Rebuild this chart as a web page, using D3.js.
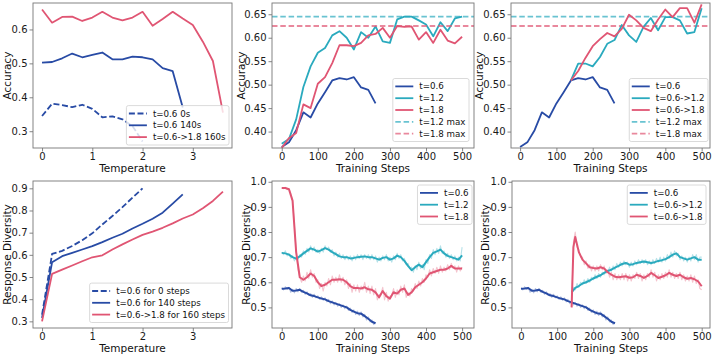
<!DOCTYPE html>
<html>
<head>
<meta charset="utf-8">
<script src="https://cdn.jsdelivr.net/npm/d3@7"></script>
<style>
  body { margin: 0; background: #fff; }
  svg { display: block; font-family: "DejaVu Sans", sans-serif; }
</style>
</head>
<body>
<div id="chart"></div>
<script>
// ---- data ----
// temperature sweeps (left column)
var temps = [0, 0.2, 0.4, 0.6, 0.8, 1.0, 1.2, 1.4, 1.6, 1.8, 2.0, 2.2, 2.4, 2.6, 2.8, 3.0, 3.2, 3.4, 3.6];
var acc0s = [0.345, 0.381, 0.377, 0.371, 0.378, 0.366, 0.341, 0.344, 0.335, 0.315, 0.27];
var acc140s = [0.502, 0.504, 0.515, 0.529, 0.518, 0.525, 0.532, 0.512, 0.512, 0.520, 0.518, 0.512, 0.486, 0.477, 0.37];
var acc160s = [0.659, 0.620, 0.637, 0.638, 0.625, 0.635, 0.652, 0.635, 0.627, 0.635, 0.652, 0.611, 0.631, 0.652, 0.632, 0.613, 0.564, 0.507, 0.355];
var div0s = [0.33, 0.604, 0.618, 0.64, 0.666, 0.697, 0.737, 0.775, 0.815, 0.858, 0.90];
var div140s = [0.315, 0.567, 0.594, 0.609, 0.624, 0.639, 0.657, 0.677, 0.695, 0.719, 0.740, 0.763, 0.79, 0.831, 0.873];
var div160s = [0.30, 0.514, 0.533, 0.552, 0.571, 0.589, 0.598, 0.624, 0.647, 0.669, 0.69, 0.705, 0.722, 0.742, 0.764, 0.782, 0.81, 0.843, 0.885];

// accuracy vs training steps (every 20 steps)
var accSteps = d3.range(0, 501, 20);
var accT06 = [0.367, 0.377, 0.403, 0.441, 0.430, 0.460, 0.484, 0.509, 0.514, 0.511, 0.516, 0.494, 0.489, 0.460];
var accT12 = [0.374, 0.384, 0.426, 0.495, 0.539, 0.568, 0.578, 0.605, 0.614, 0.600, 0.575, 0.612, 0.600,
  0.624, 0.592, 0.589, 0.639, 0.645, 0.645, 0.637, 0.628, 0.603, 0.633, 0.614, 0.641, 0.645];
var accT18 = [0.365, 0.386, 0.397, 0.458, 0.450, 0.502, 0.516, 0.546, 0.584, 0.584, 0.582, 0.589, 0.605,
  0.608, 0.621, 0.600, 0.625, 0.623, 0.624, 0.596, 0.612, 0.589, 0.617, 0.594, 0.588, 0.602];
var accMax12 = 0.645, accMax18 = 0.625;
var switchSteps = d3.range(140, 501, 20);
var accT06to12 = [0.509, 0.545, 0.545, 0.539, 0.559, 0.587, 0.595, 0.627, 0.605, 0.591, 0.623, 0.642,
  0.616, 0.644, 0.644, 0.637, 0.609, 0.612, 0.663];
var accT06to18 = [0.509, 0.529, 0.557, 0.582, 0.597, 0.610, 0.603, 0.619, 0.649, 0.637, 0.621, 0.614,
  0.639, 0.660, 0.644, 0.663, 0.663, 0.632, 0.671];

// response diversity vs training steps: smoothed (every 10) and raw (every 5)
var divT06 = [0.574, 0.575, 0.577, 0.566, 0.567, 0.57, 0.562, 0.556, 0.548, 0.545, 0.54, 0.535, 0.532, 0.525,
  0.52, 0.515, 0.51, 0.505, 0.50, 0.49, 0.483, 0.477, 0.475, 0.465, 0.455, 0.443, 0.437];
var divT06Raw = [0.578, 0.57, 0.582, 0.572, 0.58, 0.56, 0.572, 0.558, 0.575, 0.562,
  0.575, 0.56, 0.568, 0.552, 0.562, 0.548, 0.555, 0.54, 0.552, 0.538,
  0.546, 0.532, 0.542, 0.528, 0.538, 0.522, 0.532, 0.515, 0.526, 0.51,
  0.52, 0.505, 0.515, 0.50, 0.51, 0.495, 0.505, 0.488, 0.497, 0.48,
  0.49, 0.472, 0.485, 0.468, 0.482, 0.462, 0.472, 0.45, 0.462, 0.442,
  0.45, 0.432, 0.44];
var divT12 = [0.717, 0.715, 0.71, 0.70, 0.694, 0.703, 0.715, 0.725, 0.735, 0.73,
  0.722, 0.728, 0.736, 0.73, 0.72, 0.712, 0.703, 0.70, 0.70, 0.695,
  0.697, 0.70, 0.702, 0.703, 0.70, 0.70, 0.695, 0.69, 0.697, 0.70,
  0.69, 0.695, 0.706, 0.70, 0.685, 0.665, 0.648, 0.66, 0.67, 0.66,
  0.68, 0.70, 0.717, 0.723, 0.73, 0.715, 0.705, 0.70, 0.695, 0.69, 0.707];
var divT12Raw = [0.72, 0.71, 0.725, 0.705, 0.715, 0.695, 0.705, 0.685, 0.70, 0.69,
  0.71, 0.70, 0.725, 0.71, 0.735, 0.72, 0.745, 0.725, 0.74, 0.72,
  0.73, 0.715, 0.735, 0.72, 0.745, 0.73, 0.74, 0.72, 0.73, 0.705,
  0.72, 0.70, 0.715, 0.695, 0.71, 0.69, 0.705, 0.69, 0.705, 0.685,
  0.705, 0.69, 0.71, 0.695, 0.71, 0.69, 0.71, 0.695, 0.71, 0.69,
  0.71, 0.69, 0.705, 0.68, 0.70, 0.685, 0.705, 0.69, 0.71, 0.685,
  0.70, 0.68, 0.705, 0.69, 0.715, 0.695, 0.71, 0.685, 0.695, 0.67,
  0.675, 0.655, 0.66, 0.64, 0.665, 0.65, 0.68, 0.655, 0.67, 0.65,
  0.69, 0.675, 0.71, 0.695, 0.73, 0.71, 0.735, 0.715, 0.745, 0.715,
  0.725, 0.70, 0.715, 0.695, 0.71, 0.69, 0.705, 0.685, 0.70, 0.685, 0.74];
var divT18 = [0.975, 0.975, 0.97, 0.925, 0.72, 0.62, 0.61, 0.62, 0.635, 0.625,
  0.60, 0.585, 0.59, 0.60, 0.61, 0.61, 0.612, 0.61, 0.60, 0.585,
  0.577, 0.577, 0.575, 0.58, 0.572, 0.57, 0.56, 0.54, 0.565, 0.545,
  0.535, 0.56, 0.555, 0.57, 0.575, 0.55, 0.56, 0.58, 0.59, 0.60,
  0.615, 0.635, 0.64, 0.645, 0.65, 0.65, 0.655, 0.665, 0.655, 0.655, 0.655];
var divT18Raw = [0.975, 0.972, 0.978, 0.968, 0.972, 0.955, 0.925, 0.83, 0.72, 0.65,
  0.62, 0.60, 0.625, 0.605, 0.64, 0.615, 0.65, 0.62, 0.635, 0.60,
  0.61, 0.575, 0.595, 0.565, 0.60, 0.585, 0.615, 0.59, 0.625, 0.60,
  0.62, 0.60, 0.63, 0.60, 0.62, 0.59, 0.61, 0.575, 0.595, 0.56,
  0.59, 0.565, 0.59, 0.56, 0.585, 0.57, 0.60, 0.56, 0.585, 0.555,
  0.585, 0.55, 0.575, 0.53, 0.55, 0.555, 0.58, 0.53, 0.56, 0.525,
  0.545, 0.55, 0.575, 0.54, 0.57, 0.55, 0.585, 0.56, 0.59, 0.54,
  0.56, 0.545, 0.575, 0.565, 0.595, 0.575, 0.605, 0.585, 0.615, 0.60,
  0.63, 0.62, 0.65, 0.625, 0.655, 0.635, 0.66, 0.635, 0.665, 0.64,
  0.66, 0.645, 0.67, 0.65, 0.675, 0.655, 0.665, 0.64, 0.665, 0.645, 0.66];
var divT06to12 = [0.56, 0.578, 0.585, 0.595, 0.60, 0.607, 0.615, 0.622, 0.628, 0.637,
  0.645, 0.65, 0.658, 0.665, 0.673, 0.677, 0.67, 0.672, 0.677, 0.68,
  0.683, 0.68, 0.677, 0.68, 0.685, 0.688, 0.692, 0.70, 0.71, 0.715,
  0.70, 0.695, 0.69, 0.695, 0.70, 0.69, 0.69];
var divT06to12Raw = [0.55, 0.58, 0.57, 0.595, 0.58, 0.60, 0.59, 0.61, 0.595, 0.615,
  0.60, 0.62, 0.61, 0.63, 0.615, 0.635, 0.62, 0.64, 0.63, 0.65,
  0.64, 0.66, 0.645, 0.665, 0.65, 0.675, 0.66, 0.68, 0.665, 0.685,
  0.67, 0.68, 0.66, 0.68, 0.665, 0.685, 0.67, 0.69, 0.675, 0.69,
  0.675, 0.69, 0.67, 0.685, 0.67, 0.69, 0.675, 0.695, 0.68, 0.70,
  0.68, 0.70, 0.685, 0.71, 0.695, 0.72, 0.70, 0.725, 0.705, 0.715,
  0.69, 0.705, 0.685, 0.70, 0.68, 0.70, 0.685, 0.71, 0.69, 0.71,
  0.68, 0.70, 0.70];
var divT06to18Steps = [140, 145, 150, 155, 160, 170, 180, 190, 200, 210, 220, 230, 240, 250, 260, 270, 280,
  290, 300, 310, 320, 330, 340, 350, 360, 370, 380, 390, 400, 410, 420, 430, 440, 450, 460, 470, 480, 490, 500];
var divT06to18 = [0.50, 0.74, 0.78, 0.75, 0.72, 0.69, 0.675, 0.66, 0.657, 0.655, 0.66, 0.655, 0.64, 0.63,
  0.622, 0.62, 0.622, 0.624, 0.618, 0.62, 0.63, 0.625, 0.617, 0.625, 0.637, 0.628, 0.617, 0.622, 0.628,
  0.637, 0.63, 0.625, 0.63, 0.62, 0.614, 0.617, 0.612, 0.604, 0.584];
var divT06to18Raw = [0.50, 0.76, 0.80, 0.74, 0.73, 0.70, 0.70, 0.67, 0.685, 0.655,
  0.67, 0.645, 0.665, 0.645, 0.665, 0.645, 0.67, 0.65, 0.665, 0.635,
  0.65, 0.62, 0.64, 0.61, 0.635, 0.61, 0.63, 0.61, 0.635, 0.61,
  0.635, 0.605, 0.63, 0.605, 0.63, 0.615, 0.64, 0.615, 0.635, 0.605,
  0.63, 0.61, 0.635, 0.62, 0.65, 0.62, 0.64, 0.605, 0.63, 0.61,
  0.635, 0.615, 0.64, 0.62, 0.65, 0.62, 0.64, 0.615, 0.635, 0.615,
  0.64, 0.61, 0.63, 0.605, 0.625, 0.605, 0.63, 0.60, 0.625, 0.595,
  0.61, 0.575, 0.57];

// ---- drawing ----
var width = 714, height = 355;
var blue = "#284ba5", cyan = "#2aaabe", red = "#e05573";

var svg = d3.select("#chart").append("svg")
  .attr("width", width)
  .attr("height", height);

var fmt1 = d3.format(".1f"), fmt2 = d3.format(".2f"), fmtD = d3.format("d");

function makePanel(id, box, xDomain, yDomain, xTicks, yTicks, yFmt, xLabel, yLabel, yLabelOff) {
  var x = d3.scaleLinear().domain(xDomain).range([box.l, box.r]);
  var y = d3.scaleLinear().domain(yDomain).range([box.b, box.t]);

  svg.append("clipPath").attr("id", "clip" + id)
    .append("rect")
    .attr("x", box.l).attr("y", box.t)
    .attr("width", box.r - box.l).attr("height", box.b - box.t);

  var xa = svg.append("g")
    .attr("transform", "translate(0," + box.b + ")")
    .call(d3.axisBottom(x).tickValues(xTicks).tickFormat(fmtD).tickSize(3.5).tickPadding(1));
  var ya = svg.append("g")
    .attr("transform", "translate(" + box.l + ",0)")
    .call(d3.axisLeft(y).tickValues(yTicks).tickFormat(yFmt).tickSize(3.5).tickPadding(2));
  [xa, ya].forEach(function (a) {
    a.select(".domain").remove();
    a.selectAll("line").attr("stroke", "#666").attr("stroke-width", 0.8);
    a.selectAll("text").attr("font-size", 10).attr("fill", "#1a1a1a")
      .attr("font-family", "DejaVu Sans, sans-serif");
  });

  // axis labels
  svg.append("text")
    .attr("x", (box.l + box.r) / 2)
    .attr("y", box.b + 23.5)
    .attr("text-anchor", "middle")
    .attr("font-size", 10.5)
    .attr("fill", "#111")
    .text(xLabel);
  svg.append("text")
    .attr("transform", "translate(" + (box.l - yLabelOff) + "," + (box.t + box.b) / 2 + ") rotate(-90)")
    .attr("text-anchor", "middle")
    .attr("font-size", 10.5)
    .attr("fill", "#111")
    .text(yLabel);

  var plot = svg.append("g").attr("clip-path", "url(#clip" + id + ")");
  return { x: x, y: y, plot: plot, box: box };
}

function drawLine(p, xs, ys, color, opts) {
  opts = opts || {};
  var line = d3.line()
    .x(function (d) { return p.x(d[0]); })
    .y(function (d) { return p.y(d[1]); });
  p.plot.append("path")
    .datum(d3.zip(xs, ys))
    .attr("d", line)
    .attr("fill", "none")
    .attr("stroke", color)
    .attr("stroke-width", opts.width || 1.8)
    .attr("stroke-opacity", opts.opacity == null ? 1 : opts.opacity)
    .attr("stroke-dasharray", opts.dash || null)
    .attr("stroke-linejoin", "round");
}

function hLine(p, v, color) {
  p.plot.append("line")
    .attr("x1", p.box.l).attr("x2", p.box.r)
    .attr("y1", p.y(v)).attr("y2", p.y(v))
    .attr("stroke", color)
    .attr("stroke-opacity", 0.7)
    .attr("stroke-width", 1.8)
    .attr("stroke-dasharray", "5.5,2.8");
}

function frame(p) {
  var b = p.box;
  svg.append("rect")
    .attr("x", b.l).attr("y", b.t)
    .attr("width", b.r - b.l).attr("height", b.b - b.t)
    .attr("fill", "none")
    .attr("stroke", "#777")
    .attr("stroke-width", 0.9);
}

function legend(items, pos) {
  var fs = 8.7, rowH = 11.8, padV = 2, handle = 18;
  var g = svg.append("g");
  var rect = g.append("rect");
  var texts = items.map(function (it) {
    return g.append("text").attr("font-size", fs).attr("fill", "#111").text(it.label);
  });
  var maxW = d3.max(texts, function (t) { return t.node().getComputedTextLength(); });
  var w = 2.5 + handle + 6 + maxW + 3.5;
  var h = items.length * rowH + 2 * padV;
  var left = pos.right - w;
  var top = pos.top != null ? pos.top : pos.bottom - h;
  rect.attr("x", left).attr("y", top)
    .attr("width", w).attr("height", h)
    .attr("rx", 2)
    .attr("fill", "#fff").attr("fill-opacity", 0.8)
    .attr("stroke", "#d0d0d0").attr("stroke-width", 0.8);
  items.forEach(function (it, i) {
    var cy = top + padV + rowH * (i + 0.5);
    g.append("line")
      .attr("x1", left + 2.5).attr("x2", left + 2.5 + handle)
      .attr("y1", cy).attr("y2", cy)
      .attr("stroke", it.color)
      .attr("stroke-width", 1.8)
      .attr("stroke-opacity", it.opacity == null ? 1 : it.opacity)
      .attr("stroke-dasharray", it.dash || null);
    texts[i].attr("x", left + 2.5 + handle + 6).attr("y", cy).attr("dy", "0.35em");
  });
}

// panel 1: accuracy vs temperature
var p1 = makePanel(1, { l: 33, r: 232, t: 3, b: 148 }, [-0.18, 3.78], [0.2505, 0.678],
  [0, 1, 2, 3], [0.3, 0.4, 0.5, 0.6], fmt1, "Temperature", "Accuracy", 22);
drawLine(p1, temps, acc0s, blue, { dash: "6,2.6" });
drawLine(p1, temps, acc140s, blue);
drawLine(p1, temps, acc160s, red);
frame(p1);
legend([
  { label: "t=0.6 0s", color: blue, dash: "6,2.6" },
  { label: "t=0.6 140s", color: blue },
  { label: "t=0.6->1.8 160s", color: red }
], { right: 229, bottom: 145 });

// panel 2: accuracy vs steps, fixed temperatures
var p2 = makePanel(2, { l: 272, r: 474, t: 3, b: 148 }, [-27, 533], [0.365, 0.674],
  [0, 100, 200, 300, 400, 500], [0.40, 0.45, 0.50, 0.55, 0.60, 0.65], fmt2, "Training Steps", "Accuracy", 27.5);
drawLine(p2, accSteps, accT06, blue);
drawLine(p2, accSteps, accT12, cyan);
drawLine(p2, accSteps, accT18, red);
hLine(p2, accMax12, cyan);
hLine(p2, accMax18, red);
frame(p2);
legend([
  { label: "t=0.6", color: blue },
  { label: "t=1.2", color: cyan },
  { label: "t=1.8", color: red },
  { label: "t=1.2 max", color: cyan, dash: "5.5,2.8", opacity: 0.7 },
  { label: "t=1.8 max", color: red, dash: "5.5,2.8", opacity: 0.7 }
], { right: 469, bottom: 141.5 });

// panel 3: accuracy vs steps, switched temperatures
var p3 = makePanel(3, { l: 511, r: 710, t: 3, b: 148 }, [-25, 523], [0.365, 0.674],
  [0, 100, 200, 300, 400, 500], [0.40, 0.45, 0.50, 0.55, 0.60, 0.65], fmt2, "Training Steps", "Accuracy", 28);
hLine(p3, accMax12, cyan);
hLine(p3, accMax18, red);
drawLine(p3, accSteps, accT06, blue);
drawLine(p3, switchSteps, accT06to12, cyan);
drawLine(p3, switchSteps, accT06to18, red);
frame(p3);
legend([
  { label: "t=0.6", color: blue },
  { label: "t=0.6->1.2", color: cyan },
  { label: "t=0.6->1.8", color: red },
  { label: "t=1.2 max", color: cyan, dash: "5.5,2.8", opacity: 0.7 },
  { label: "t=1.8 max", color: red, dash: "5.5,2.8", opacity: 0.7 }
], { right: 708, bottom: 141.5 });

// panel 4: diversity vs temperature
var p4 = makePanel(4, { l: 33, r: 232, t: 181, b: 328 }, [-0.18, 3.78], [0.27, 0.933],
  [0, 1, 2, 3], [0.3, 0.4, 0.5, 0.6, 0.7, 0.8, 0.9], fmt1, "Temperature", "Response Diversity", 22);
drawLine(p4, temps, div0s, blue, { dash: "6,2.6" });
drawLine(p4, temps, div140s, blue);
drawLine(p4, temps, div160s, red);
frame(p4);
legend([
  { label: "t=0.6 for 0 steps", color: blue, dash: "6,2.6" },
  { label: "t=0.6 for 140 steps", color: blue },
  { label: "t=0.6->1.8 for 160 steps", color: red }
], { right: 228.5, bottom: 322.5 });

var s10 = d3.range(0, 501, 10), s5 = d3.range(0, 501, 5);
var s10sw = d3.range(140, 501, 10), s5sw = d3.range(140, 501, 5);

// panel 5: diversity vs steps, fixed temperatures
var p5 = makePanel(5, { l: 272, r: 474, t: 181, b: 328 }, [-27, 533], [0.418, 1.003],
  [0, 100, 200, 300, 400, 500], [0.5, 0.6, 0.7, 0.8, 0.9, 1.0], fmt1, "Training Steps", "Response Diversity", 22);
drawLine(p5, s5, divT06Raw, blue, { width: 1.1, opacity: 0.35 });
drawLine(p5, s5, divT12Raw, cyan, { width: 1.1, opacity: 0.35 });
drawLine(p5, s5, divT18Raw, red, { width: 1.1, opacity: 0.35 });
drawLine(p5, s10, divT06, blue, { width: 2 });
drawLine(p5, s10, divT12, cyan, { width: 2 });
drawLine(p5, s10, divT18, red, { width: 2 });
frame(p5);
legend([
  { label: "t=0.6", color: blue },
  { label: "t=1.2", color: cyan },
  { label: "t=1.8", color: red }
], { right: 472, top: 185 });

// panel 6: diversity vs steps, switched temperatures
var p6 = makePanel(6, { l: 512, r: 710, t: 181, b: 328 }, [-25, 523], [0.418, 1.003],
  [0, 100, 200, 300, 400, 500], [0.5, 0.6, 0.7, 0.8, 0.9, 1.0], fmt1, "Training Steps", "Response Diversity", 23);
drawLine(p6, s5, divT06Raw, blue, { width: 1.1, opacity: 0.35 });
drawLine(p6, s5sw, divT06to12Raw, cyan, { width: 1.1, opacity: 0.35 });
drawLine(p6, s5sw, divT06to18Raw, red, { width: 1.1, opacity: 0.35 });
drawLine(p6, s10, divT06, blue, { width: 2 });
drawLine(p6, s10sw, divT06to12, cyan, { width: 2 });
drawLine(p6, divT06to18Steps, divT06to18, red, { width: 2 });
frame(p6);
legend([
  { label: "t=0.6", color: blue },
  { label: "t=0.6->1.2", color: cyan },
  { label: "t=0.6->1.8", color: red }
], { right: 706, top: 185 });
</script>
</body>
</html>
